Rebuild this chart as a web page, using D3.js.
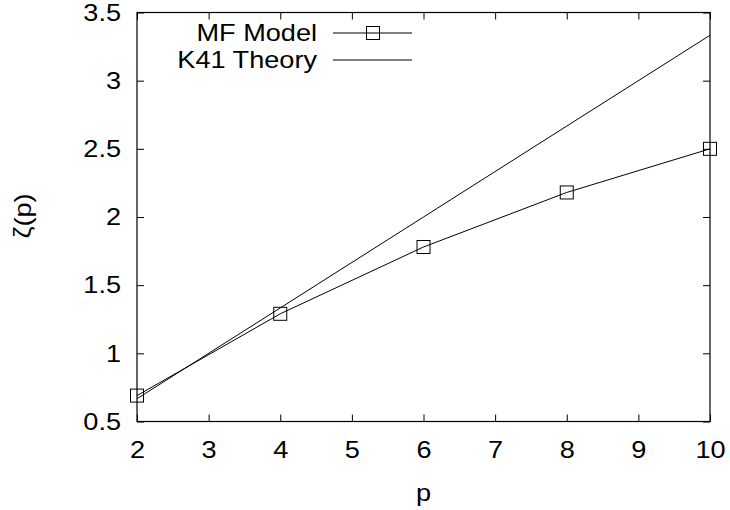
<!DOCTYPE html>
<html>
<head>
<meta charset="utf-8">
<script src="https://cdn.jsdelivr.net/npm/d3@7"></script>
<style>
  body { margin: 0; background: #fff; }
  svg text { font-family: "Liberation Sans", Arial, sans-serif; font-size: 24px; fill: #000; }
</style>
</head>
<body>
<div id="chart"></div>
<script>
// Data
var pValues = [2, 4, 6, 8, 10];
var mfModel = [0.69, 1.29, 1.78, 2.18, 2.50];
var k41Theory = [0.667, 1.333, 2.0, 2.667, 3.333];
var xTicks = [2, 3, 4, 5, 6, 7, 8, 9, 10];
var yTicks = [0.5, 1, 1.5, 2, 2.5, 3, 3.5];

var width = 730, height = 510;
var margin = { top: 12.5, right: 20, bottom: 88.5, left: 137 };
var w = width - margin.left - margin.right,
    h = height - margin.top - margin.bottom;

var x = d3.scaleLinear().domain([2, 10]).range([0, w]),
    y = d3.scaleLinear().domain([0.5, 3.5]).range([h, 0]);

var svg = d3.select("#chart")
  .append("svg")
    .attr("width", width)
    .attr("height", height)
  .append("g")
    .attr("transform", "translate(" + margin.left + "," + margin.top + ")");

// Axes, gnuplot style: ticks point inward on all sides
function styleAxis(g) {
  g.select(".domain").remove();
  g.selectAll(".tick line").attr("stroke", "#000").attr("stroke-width", 1);
}

svg.append("g")
  .attr("transform", "translate(0," + h + ")")
  .call(d3.axisBottom(x).tickValues(xTicks).tickSize(-7).tickPadding(19).tickFormat(d3.format("d")))
  .call(styleAxis);

svg.append("g")
  .call(d3.axisTop(x).tickValues(xTicks).tickSize(-7).tickFormat(""))
  .call(styleAxis);

svg.append("g")
  .call(d3.axisLeft(y).tickValues(yTicks).tickSize(-7).tickPadding(16).tickFormat(d3.format("")))
  .call(styleAxis);

svg.append("g")
  .attr("transform", "translate(" + w + ",0)")
  .call(d3.axisRight(y).tickValues(yTicks).tickSize(-7).tickFormat(""))
  .call(styleAxis);

// Border box
svg.append("rect")
  .attr("x", 0).attr("y", 0)
  .attr("width", w).attr("height", h)
  .attr("fill", "none")
  .attr("stroke", "#000")
  .attr("stroke-width", 1.2);

// Axis labels
svg.append("text")
  .attr("x", x(6))
  .attr("y", h + 79)
  .attr("text-anchor", "middle")
  .text("p");

svg.append("text")
  .attr("transform", "translate(" + (31 - margin.left) + "," + (216 - margin.top) + ") rotate(-90)")
  .attr("text-anchor", "middle")
  .text("ζ(p)");

var line = d3.line()
  .x(function(d, i) { return x(pValues[i]); })
  .y(function(d) { return y(d); });

// K41 theory line
svg.append("path")
  .datum(k41Theory)
  .attr("d", line)
  .attr("fill", "none")
  .attr("stroke", "#000")
  .attr("stroke-width", 1);

// MF model line + square markers
svg.append("path")
  .datum(mfModel)
  .attr("d", line)
  .attr("fill", "none")
  .attr("stroke", "#000")
  .attr("stroke-width", 1);

var sq = 13;
svg.selectAll(".mf-point")
  .data(mfModel)
  .enter()
  .append("rect")
  .attr("class", "mf-point")
  .attr("x", function(d, i) { return x(pValues[i]) - sq / 2; })
  .attr("y", function(d) { return y(d) - sq / 2; })
  .attr("width", sq)
  .attr("height", sq)
  .attr("fill", "none")
  .attr("stroke", "#000")
  .attr("stroke-width", 1);

// Legend
var legend = svg.append("g")
  .attr("transform", "translate(" + (317 - margin.left) + "," + (33 - margin.top) + ")");

var legendItems = [
  { label: "MF Model", marker: true },
  { label: "K41 Theory", marker: false }
];

legendItems.forEach(function(item, i) {
  var row = legend.append("g").attr("transform", "translate(0," + (i * 27) + ")");
  row.append("text")
    .attr("x", 0)
    .attr("y", 0)
    .attr("dy", "0.35em")
    .attr("text-anchor", "end")
    .text(item.label);
  row.append("line")
    .attr("x1", 16).attr("x2", 95)
    .attr("y1", 0).attr("y2", 0)
    .attr("stroke", "#000");
  if (item.marker) {
    row.append("rect")
      .attr("x", 56 - sq / 2).attr("y", -sq / 2)
      .attr("width", sq).attr("height", sq)
      .attr("fill", "none")
      .attr("stroke", "#000");
  }
});

// the original's lettering is a bit wider than Liberation, stretch it
svg.selectAll("text").each(function() {
  var len = this.getComputedTextLength();
  d3.select(this)
    .attr("textLength", len * 1.13)
    .attr("lengthAdjust", "spacingAndGlyphs");
});
</script>
</body>
</html>
